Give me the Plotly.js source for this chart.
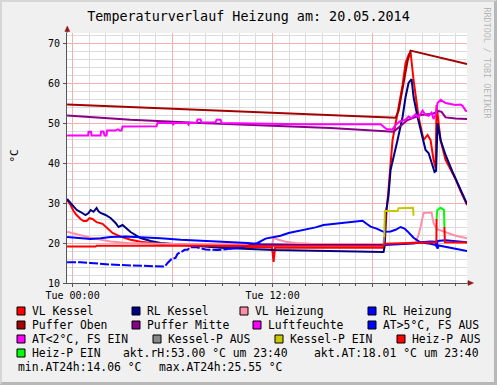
<!DOCTYPE html>
<html><head><meta charset="utf-8">
<script src="https://cdn.plot.ly/plotly-3.0.1.min.js"></script>
<style>
html,body{margin:0;padding:0;background:#f0f0f0;}
#wrap{position:relative;width:497px;height:385px;overflow:hidden;}
#chart{width:497px;height:385px;}
#frame{position:absolute;left:0;top:0;width:497px;height:385px;box-sizing:border-box;border-left:2px solid #d6d6d6;border-top:2px solid #d6d6d6;border-right:3px solid #b8b8b8;border-bottom:3px solid #b8b8b8;pointer-events:none;}
</style></head><body>
<div id="wrap"><div id="chart"></div><div id="frame"></div></div>
<script>
// time in hours relative to Tue 00:00 (chart spans Mon 23:40 .. Tue 23:40), value in °C
const vlKessel = [[-0.33,30.75],[-0.12,29.5],[0.06,28],[0.24,27],[0.48,26],[0.66,25.5],[0.84,25.5],[1.02,26.2],[1.20,26],[1.44,25.2],
 [1.80,24.8],[2.04,23.8],[2.40,22.5],[2.88,21.6],[3.48,20.8],[4.08,20.3],[5.28,19.75],[6.48,19.5],[8.88,19.1],[11.97,18.9],
 [12.06,15.3],[12.15,18.8],[13.68,18.8],[16.08,18.8],[18.66,18.8],[18.75,21],[18.84,28],[18.96,33.5],[19.20,45.75],[19.50,52.5],
 [19.80,59.5],[19.98,65],[20.16,67],[20.28,67.75],[20.46,60.75],[20.76,51.5],[21.06,45.75],[21.30,47],[21.48,45.75],[21.66,40.75],
 [21.78,38.75],[21.84,54.5],[22.08,45.75],[22.38,40.75],[22.68,38.25],[22.98,36],[23.28,33],[23.67,29.5]];
const rlKessel = [[-0.33,31],[-0.12,30],[0.06,29],[0.24,28.3],[0.48,27.75],[0.78,27],[0.96,27.5],[1.08,28.25],[1.26,27.8],[1.44,28.75],
 [1.56,27.9],[1.68,27.5],[1.98,27],[2.28,26.25],[2.58,25],[2.76,24],[3.0,24.5],[3.24,23.6],[3.48,22.75],[4.08,21.25],
 [4.68,20.5],[5.28,20],[6.18,19.7],[7.08,19.4],[8.88,18.8],[12.06,18.25],[13.68,18.1],[16.08,17.9],[18.66,17.75],[18.72,19],
 [18.78,27],[18.96,32],[19.08,38.25],[19.5,45.75],[19.8,51.5],[19.98,56.5],[20.16,60],[20.34,61],[20.46,56.5],[20.7,51.5],
 [20.88,48.25],[21.18,43.25],[21.36,42.5],[21.6,39.5],[21.72,37.75],[21.81,38],[21.9,50],[22.08,45.75],[22.38,42],[22.8,37.75],
 [23.1,35],[23.4,32.5],[23.67,29.75]];
const vlHeizung = [[-0.33,22.8],[0.3,22.2],[1.08,21.3],[2.28,20.4],[3.3,20],[5.28,19.8],[7.68,19.6],[11.97,19.5],[12.06,21.3],[12.36,20.8],
 [12.78,20.3],[13.38,20],[14.28,19.8],[18.66,19.6],[19.68,19.8],[20.58,20.2],[20.76,22],[20.88,24],[21.06,27.5],[21.54,27.6],
 [21.66,25],[21.84,23.5],[22.38,22.7],[22.98,21.8],[23.67,21.2]];
const rlHeizung = [[-0.33,21.5],[0.48,21.2],[1.08,21],[1.68,21.2],[2.28,21.5],[3.18,21.6],[4.08,21.5],[5.28,21.2],[6.48,20.8],[7.68,20.6],
 [9.48,20.3],[10.5,20],[11.28,19.7],[13.68,19.5],[18.66,19.5],[19.68,19.7],[20.46,19.9],[20.88,20.2],[21.48,20.4],[21.78,20.3],
 [21.84,19],[21.9,20.5],[22.38,20.7],[23.67,20.2]];
const pufferOben = [[-0.33,54.6],[7.68,53.3],[15.48,52],[19.38,51.3],[19.56,53],[19.86,60],[20.1,65.5],[20.28,68.1],[23.67,64.75]];
const pufferMitte = [[-0.33,51.9],[3.48,50.8],[7.68,50],[11.88,49.3],[15.48,48.75],[19.26,47.8],[19.68,49.3],[20.1,50.75],[20.88,52],[21.6,52.3],
 [21.96,53],[22.14,52.8],[22.38,51.4],[22.98,51.1],[23.67,51]];
const luftfeuchte = [[-0.33,46.9],[0.93,46.9],[0.96,47.8],[1.11,47.8],[1.14,46.9],[1.68,46.9],[1.71,47.9],[1.86,47.9],[1.92,46.9],[2.04,46.9],
 [2.07,48.1],[2.58,48.1],[2.7,48.4],[2.76,48.4],[2.82,48.1],[2.94,48.1],[3.0,49.1],[5.04,49.2],[5.1,50],[6.0,50],
 [6.03,49.5],[6.09,50],[6.9,50],[6.96,49.6],[7.02,50],[7.44,50],[7.5,50.9],[7.68,50.9],[7.74,50.1],[8.58,50.2],
 [8.64,50.8],[8.88,50.8],[8.94,50],[13.68,49.7],[18.48,49.7],[18.66,49.2],[18.84,48.5],[19.2,48.4],[19.38,49.5],[19.68,50.5],
 [19.98,50.8],[20.16,51.6],[20.34,51.2],[20.58,52.2],[20.76,51.4],[21.0,53.1],[21.18,52],[21.36,51.8],[21.54,52.6],[21.66,51],
 [21.78,52],[21.9,55],[22.08,55.8],[22.38,55],[22.68,54.8],[22.98,54.5],[23.28,54.6],[23.4,54.3],[23.58,53.1],[23.67,53]];
const aussen = [[-0.33,15.2],[0.48,15.2],[1.08,15],[1.68,14.75],[2.28,14.6],[2.88,14.5],[3.48,14.4],[4.08,14.25],[4.68,14.1],[5.16,14.06],
 [5.52,14.1],[5.7,15],[5.94,16],[6.18,16.3],[6.3,17.3],[6.54,17.8],[6.72,18.3],[6.9,18.3],[7.02,18.9],[7.38,19],
 [7.98,18.4],[8.7,18.25],[9.36,18.5],[10.08,18.9],[10.68,19.5],[11.1,20],[11.58,21.1],[12.06,21.5],[12.48,21.8],[12.96,22.5],
 [13.44,22.9],[13.98,23.3],[14.58,23.9],[15.06,24.5],[15.6,24.75],[16.38,25.1],[16.98,25.3],[17.4,25.55],[17.64,24.8],[17.88,24.1],
 [18.24,23.6],[18.66,22.8],[19.08,22.9],[19.38,23.3],[19.68,24],[19.92,23.6],[20.1,22.9],[20.46,21.3],[20.88,20.1],[21.48,19.8],
 [21.84,19.4],[21.9,18.6],[21.96,19.4],[22.5,19],[23.1,18.5],[23.67,18]];
const aussenGapEnd = 9.36; // until here the AT trace has many unknown samples
const kesselPAus = [[18.65,19.3],[18.7,21.5]];
const kesselPEin = [[18.7,21.5],[18.74,28],[19.5,28],[19.56,28.7],[20.43,28.8],[20.46,26.8]];
const heizPAus = [[-0.33,19.1],[1.38,19.1],[1.44,19.3],[18.66,19.3],[18.72,19.8],[19.68,19.9],[20.46,20.1],[21.83,20.2],[21.84,26],[null,null],
 [22.31,24],[22.34,20.2],[23.67,20.1]];
const heizPEin = [[21.84,26],[21.88,28.2],[22.08,28.8],[22.28,28.3],[22.3,26],[22.31,24]];

const legendNames = ['VL Kessel','RL Kessel','VL Heizung','RL Heizung','Puffer Oben','Puffer Mitte','Luftfeuchte',
 'AT>5°C, FS AUS','AT<2°C, FS EIN','Kessel-P AUS','Kessel-P EIN','Heiz-P AUS','Heiz-P EIN'];
const infoTexts = ['akt.rH:53.00 °C um 23:40','akt.AT:18.01 °C um 23:40','min.AT24h:14.06 °C','max.AT24h:25.55 °C'];
const xTickVals = [0,6,12,18];
const xTickText = ['Tue 00:00','','Tue 12:00',''];
const titleText = 'Temperaturverlauf Heizung am: 20.05.2014';

// ---- styling ----
const C = {vlK:'#ff0000', rlK:'#000080', vlH:'#ff8fa8', rlH:'#0000ff', pO:'#a40000', pM:'#880088', lf:'#ff00ff',
  at5:'#0000ff', at2:'#ff00ff', kA:'#888888', kE:'#c8c800', hA:'#ff0000', hE:'#00ff00'};
const legendColors = [C.vlK,C.rlK,C.vlH,C.rlH,C.pO,C.pM,C.lf,C.at5,C.at2,C.kA,C.kE,C.hA,C.hE];
const legendPx = [[17,311],[132,311],[240,311],[368,311],[17,325],[132,325],[253,325],[368,325],[17,339],[153,339],[275,339],[397,339],[17,353]];
const infoPx = [[122,353],[313,353],[17,367],[158,367]];

const L = 67, T = 33, PW = 400, PH = 250;
const X = px => (px - L) / PW;
const Y = py => (T + PH - py) / PH;
const MONO = 'DejaVu Sans Mono';

function tr(pairs, color, width, dash) {
  return {type:'scatter', mode:'lines', x: pairs.map(p => p[0]), y: pairs.map(p => p[1]),
    line:{color:color, width:width, dash:dash || 'solid'}, showlegend:false, hoverinfo:'skip', connectgaps:false};
}
const traces = [
  tr(vlKessel, C.vlK, 2), tr(rlKessel, C.rlK, 2), tr(vlHeizung, C.vlH, 2), tr(rlHeizung, C.rlH, 2),
  tr(pufferOben, C.pO, 2), tr(pufferMitte, C.pM, 2), tr(luftfeuchte, C.lf, 2),
  tr(aussen.filter(p => p[0] <= aussenGapEnd), C.at5, 2, '9px,2px'),
  tr(aussen.filter(p => p[0] >= aussenGapEnd), C.at5, 2),
  tr(kesselPAus, C.kA, 2), tr(kesselPEin, C.kE, 2), tr(heizPAus, C.hA, 2), tr(heizPEin, C.hE, 2)
];

const shapes = [];
const annotations = [];
legendNames.forEach((n, i) => {
  const [sx, sy] = legendPx[i];
  shapes.push({type:'rect', xref:'paper', yref:'paper', x0:X(sx), x1:X(sx+8), y0:Y(sy+4), y1:Y(sy-4),
    fillcolor:legendColors[i], line:{color:'#000', width:1}, layer:'above'});
  annotations.push({xref:'paper', yref:'paper', x:X(sx+13), y:Y(sy), xanchor:'left', yanchor:'middle', showarrow:false,
    text:n, font:{family:MONO, size:11.4, color:'#000'}});
});
infoTexts.forEach((t, i) => {
  annotations.push({xref:'paper', yref:'paper', x:X(infoPx[i][0]-1), y:Y(infoPx[i][1]), xanchor:'left', yanchor:'middle', showarrow:false,
    text:t, font:{family:MONO, size:11.4, color:'#000'}});
});
annotations.push({xref:'paper', yref:'paper', x:X(13.5), y:Y(156), xanchor:'center', yanchor:'middle', showarrow:false, textangle:-90,
  text:'°C', font:{family:MONO, size:11, color:'#000'}});
annotations.push({xref:'paper', yref:'paper', x:X(486.5), y:Y(63), xanchor:'center', yanchor:'middle', showarrow:false, textangle:90,
  text:'RRDTOOL / TOBI OETIKER', font:{family:MONO, size:8.4, color:'#b8b8b8'}});

// axis arrows
const AX = '#8c1c1c';
shapes.push({type:'line', xref:'paper', yref:'paper', x0:0, x1:0, y0:1, y1:Y(30), line:{color:'#555', width:1}});
shapes.push({type:'path', xref:'paper', yref:'paper', path:`M ${X(67.3)} ${Y(26)} L ${X(64.8)} ${Y(31.5)} L ${X(69.8)} ${Y(31.5)} Z`, fillcolor:AX, line:{color:AX, width:0.5}});
shapes.push({type:'line', xref:'paper', yref:'paper', x0:1, x1:X(469), y0:0, y1:0, line:{color:'#555', width:1}});
shapes.push({type:'path', xref:'paper', yref:'paper', path:`M ${X(473.5)} ${Y(283)} L ${X(468)} ${Y(280.5)} L ${X(468)} ${Y(285.5)} Z`, fillcolor:AX, line:{color:AX, width:0.5}});

const MAJ = '#f6b0b0', MIN = '#dcdcdc';
const layout = {
  width:497, height:385,
  margin:{l:L, r:497-L-PW, t:T, b:385-T-PH, pad:0},
  paper_bgcolor:'#f0f0f0', plot_bgcolor:'#ffffff',
  title:{text:titleText, x:0.5, xref:'container', xanchor:'center', y:1-16/385, yref:'container', yanchor:'middle',
    font:{family:MONO, size:13.4, color:'#000'}},
  xaxis:{range:[-1/3, 23+2/3], tickmode:'array', tickvals:xTickVals, ticktext:xTickText,
    showgrid:true, gridcolor:MAJ, gridwidth:1, zeroline:false,
    ticks:'outside', ticklen:3, tickcolor:'#555', showline:true, linecolor:'#555', linewidth:1,
    tickfont:{family:MONO, size:10, color:'#000'},
    minor:{tickmode:'linear', tick0:0, dtick:1, showgrid:true, gridcolor:MIN, gridwidth:1, ticks:'outside', ticklen:2, tickcolor:'#555'}},
  yaxis:{range:[10, 72.5], tickmode:'linear', tick0:0, dtick:10,
    showgrid:true, gridcolor:MAJ, gridwidth:1, zeroline:false,
    ticks:'outside', ticklen:3, tickcolor:'#555', showline:true, linecolor:'#555', linewidth:1,
    ticklabelstandoff:1,
    tickfont:{family:MONO, size:10, color:'#000'},
    minor:{tickmode:'linear', tick0:0, dtick:2, showgrid:true, gridcolor:MIN, gridwidth:1}},
  shapes:shapes, annotations:annotations, showlegend:false
};
Plotly.newPlot('chart', traces, layout, {staticPlot:true, displayModeBar:false});
</script></body></html>
